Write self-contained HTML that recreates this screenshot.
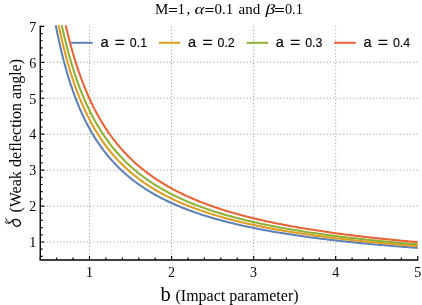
<!DOCTYPE html><html><head><meta charset="utf-8"><style>html,body{margin:0;padding:0;background:#fff}svg{display:block;will-change:transform;opacity:0.999}text{font-family:"Liberation Serif",serif;fill:#000}.s{font-family:"Liberation Sans",sans-serif;stroke:#000;stroke-width:0.3px}</style></head><body>
<svg width="422" height="305" viewBox="0 0 422 305">
<rect width="422" height="305" fill="#fff"/>
<path d="M40.26 242.00H417.74M40.26 206.06H417.74M40.26 170.12H417.74M40.26 134.18H417.74M40.26 98.24H417.74M40.26 62.30H417.74M89.50 26.36V259.97M171.56 26.36V259.97M253.62 26.36V259.97M335.68 26.36V259.97" stroke="#969696" stroke-width="1" stroke-dasharray="1 2.33" fill="none"/>
<clipPath id="c"><rect x="40.26" y="25.36" width="377.88" height="234.61"/></clipPath>
<g clip-path="url(#c)" fill="none" stroke-width="2.05" stroke-linejoin="round">
<polyline points="45.19,-44.57 46.83,-31.29 48.47,-19.07 50.11,-7.77 51.75,2.70 53.39,12.42 55.03,21.49 56.68,29.95 58.32,37.88 59.96,45.31 61.60,52.30 63.24,58.88 64.88,65.09 66.52,70.95 68.16,76.50 69.81,81.76 71.45,86.76 73.09,91.50 74.73,96.02 76.37,100.32 78.01,104.42 79.65,108.34 81.29,112.08 82.94,115.67 84.58,119.10 86.22,122.39 87.86,125.54 89.50,128.57 91.14,131.49 92.78,134.29 94.42,136.98 96.06,139.58 97.71,142.08 99.35,144.49 100.99,146.82 102.63,149.07 104.27,151.25 105.91,153.35 107.55,155.38 109.19,157.35 110.84,159.25 112.48,161.10 114.12,162.89 115.76,164.63 117.40,166.31 119.04,167.94 120.68,169.53 122.32,171.07 123.97,172.57 125.61,174.03 127.25,175.45 128.89,176.83 130.53,178.17 132.17,179.48 133.81,180.75 135.45,181.99 137.09,183.20 138.74,184.38 140.38,185.53 142.02,186.66 143.66,187.75 145.30,188.82 146.94,189.87 148.58,190.89 150.22,191.89 151.87,192.86 153.51,193.81 155.15,194.75 156.79,195.66 158.43,196.55 160.07,197.42 161.71,198.27 163.35,199.11 165.00,199.93 166.64,200.73 168.28,201.52 169.92,202.29 171.56,203.04 173.20,203.78 174.84,204.51 176.48,205.22 178.12,205.91 179.77,206.60 181.41,207.27 183.05,207.93 184.69,208.57 186.33,209.21 187.97,209.83 189.61,210.44 191.25,211.05 192.90,211.64 194.54,212.22 196.18,212.79 197.82,213.35 199.46,213.90 201.10,214.44 202.74,214.97 204.38,215.49 206.03,216.01 207.67,216.52 209.31,217.01 210.95,217.50 212.59,217.99 214.23,218.46 215.87,218.93 217.51,219.39 219.15,219.84 220.80,220.29 222.44,220.73 224.08,221.16 225.72,221.58 227.36,222.00 229.00,222.42 230.64,222.83 232.28,223.23 233.93,223.62 235.57,224.01 237.21,224.40 238.85,224.78 240.49,225.15 242.13,225.52 243.77,225.88 245.41,226.24 247.06,226.59 248.70,226.94 250.34,227.29 251.98,227.62 253.62,227.96 255.26,228.29 256.90,228.62 258.54,228.94 260.18,229.26 261.83,229.57 263.47,229.88 265.11,230.18 266.75,230.49 268.39,230.78 270.03,231.08 271.67,231.37 273.31,231.66 274.96,231.94 276.60,232.22 278.24,232.50 279.88,232.77 281.52,233.04 283.16,233.31 284.80,233.57 286.44,233.83 288.09,234.09 289.73,234.34 291.37,234.59 293.01,234.84 294.65,235.09 296.29,235.33 297.93,235.57 299.57,235.81 301.21,236.04 302.86,236.28 304.50,236.51 306.14,236.73 307.78,236.96 309.42,237.18 311.06,237.40 312.70,237.62 314.34,237.83 315.99,238.05 317.63,238.26 319.27,238.47 320.91,238.67 322.55,238.88 324.19,239.08 325.83,239.28 327.47,239.48 329.12,239.67 330.76,239.87 332.40,240.06 334.04,240.25 335.68,240.44 337.32,240.62 338.96,240.81 340.60,240.99 342.24,241.17 343.89,241.35 345.53,241.53 347.17,241.70 348.81,241.88 350.45,242.05 352.09,242.22 353.73,242.39 355.37,242.56 357.02,242.72 358.66,242.89 360.30,243.05 361.94,243.21 363.58,243.37 365.22,243.53 366.86,243.69 368.50,243.84 370.15,244.00 371.79,244.15 373.43,244.30 375.07,244.45 376.71,244.60 378.35,244.75 379.99,244.89 381.63,245.04 383.27,245.18 384.92,245.32 386.56,245.46 388.20,245.60 389.84,245.74 391.48,245.88 393.12,246.02 394.76,246.15 396.40,246.28 398.05,246.42 399.69,246.55 401.33,246.68 402.97,246.81 404.61,246.94 406.25,247.07 407.89,247.19 409.53,247.32 411.18,247.44 412.82,247.56 414.46,247.69 416.10,247.81 417.74,247.93" stroke="#5e81b5"/>
<polyline points="48.47,-37.04 50.11,-25.05 51.75,-13.94 53.39,-3.62 55.03,6.00 56.68,14.98 58.32,23.39 59.96,31.27 61.60,38.69 63.24,45.67 64.88,52.25 66.52,58.47 68.16,64.36 69.81,69.94 71.45,75.24 73.09,80.27 74.73,85.06 76.37,89.62 78.01,93.97 79.65,98.13 81.29,102.10 82.94,105.90 84.58,109.54 86.22,113.03 87.86,116.37 89.50,119.59 91.14,122.68 92.78,125.65 94.42,128.51 96.06,131.26 97.71,133.91 99.35,136.47 100.99,138.94 102.63,141.33 104.27,143.63 105.91,145.86 107.55,148.02 109.19,150.10 110.84,152.12 112.48,154.08 114.12,155.98 115.76,157.82 117.40,159.60 119.04,161.34 120.68,163.02 122.32,164.66 123.97,166.25 125.61,167.79 127.25,169.29 128.89,170.76 130.53,172.18 132.17,173.57 133.81,174.92 135.45,176.23 137.09,177.52 138.74,178.77 140.38,179.99 142.02,181.18 143.66,182.34 145.30,183.48 146.94,184.58 148.58,185.67 150.22,186.72 151.87,187.76 153.51,188.77 155.15,189.75 156.79,190.72 158.43,191.67 160.07,192.59 161.71,193.50 163.35,194.38 165.00,195.25 166.64,196.10 168.28,196.93 169.92,197.75 171.56,198.55 173.20,199.33 174.84,200.10 176.48,200.85 178.12,201.59 179.77,202.32 181.41,203.03 183.05,203.73 184.69,204.41 186.33,205.09 187.97,205.75 189.61,206.40 191.25,207.03 192.90,207.66 194.54,208.28 196.18,208.88 197.82,209.47 199.46,210.06 201.10,210.63 202.74,211.20 204.38,211.75 206.03,212.30 207.67,212.83 209.31,213.36 210.95,213.88 212.59,214.39 214.23,214.90 215.87,215.39 217.51,215.88 219.15,216.36 220.80,216.83 222.44,217.30 224.08,217.76 225.72,218.21 227.36,218.65 229.00,219.09 230.64,219.52 232.28,219.95 233.93,220.37 235.57,220.78 237.21,221.19 238.85,221.59 240.49,221.99 242.13,222.38 243.77,222.76 245.41,223.14 247.06,223.52 248.70,223.89 250.34,224.25 251.98,224.61 253.62,224.96 255.26,225.31 256.90,225.66 258.54,226.00 260.18,226.34 261.83,226.67 263.47,227.00 265.11,227.32 266.75,227.64 268.39,227.96 270.03,228.27 271.67,228.58 273.31,228.88 274.96,229.18 276.60,229.48 278.24,229.77 279.88,230.06 281.52,230.35 283.16,230.63 284.80,230.91 286.44,231.19 288.09,231.46 289.73,231.73 291.37,232.00 293.01,232.26 294.65,232.52 296.29,232.78 297.93,233.03 299.57,233.28 301.21,233.53 302.86,233.78 304.50,234.02 306.14,234.26 307.78,234.50 309.42,234.74 311.06,234.97 312.70,235.20 314.34,235.43 315.99,235.66 317.63,235.88 319.27,236.10 320.91,236.32 322.55,236.54 324.19,236.75 325.83,236.96 327.47,237.17 329.12,237.38 330.76,237.59 332.40,237.79 334.04,237.99 335.68,238.19 337.32,238.39 338.96,238.58 340.60,238.78 342.24,238.97 343.89,239.16 345.53,239.35 347.17,239.53 348.81,239.72 350.45,239.90 352.09,240.08 353.73,240.26 355.37,240.44 357.02,240.61 358.66,240.79 360.30,240.96 361.94,241.13 363.58,241.30 365.22,241.47 366.86,241.63 368.50,241.80 370.15,241.96 371.79,242.12 373.43,242.29 375.07,242.44 376.71,242.60 378.35,242.76 379.99,242.91 381.63,243.07 383.27,243.22 384.92,243.37 386.56,243.52 388.20,243.67 389.84,243.81 391.48,243.96 393.12,244.10 394.76,244.25 396.40,244.39 398.05,244.53 399.69,244.67 401.33,244.81 402.97,244.95 404.61,245.08 406.25,245.22 407.89,245.35 409.53,245.48 411.18,245.62 412.82,245.75 414.46,245.88 416.10,246.00 417.74,246.13" stroke="#e19c24"/>
<polyline points="50.11,-43.55 51.75,-31.68 53.39,-20.65 55.03,-10.38 56.68,-0.79 58.32,8.17 59.96,16.59 61.60,24.49 63.24,31.93 64.88,38.94 66.52,45.56 68.16,51.83 69.81,57.77 71.45,63.40 73.09,68.76 74.73,73.85 76.37,78.70 78.01,83.33 79.65,87.74 81.29,91.96 82.94,96.00 84.58,99.86 86.22,103.57 87.86,107.12 89.50,110.53 91.14,113.81 92.78,116.96 94.42,119.99 96.06,122.91 97.71,125.73 99.35,128.44 100.99,131.06 102.63,133.59 104.27,136.04 105.91,138.40 107.55,140.68 109.19,142.89 110.84,145.03 112.48,147.11 114.12,149.12 115.76,151.07 117.40,152.96 119.04,154.80 120.68,156.58 122.32,158.31 123.97,159.99 125.61,161.63 127.25,163.22 128.89,164.77 130.53,166.28 132.17,167.75 133.81,169.18 135.45,170.57 137.09,171.93 138.74,173.25 140.38,174.54 142.02,175.80 143.66,177.03 145.30,178.23 146.94,179.40 148.58,180.55 150.22,181.67 151.87,182.76 153.51,183.83 155.15,184.87 156.79,185.90 158.43,186.89 160.07,187.87 161.71,188.83 163.35,189.77 165.00,190.69 166.64,191.58 168.28,192.46 169.92,193.33 171.56,194.17 173.20,195.00 174.84,195.81 176.48,196.61 178.12,197.39 179.77,198.16 181.41,198.91 183.05,199.65 184.69,200.37 186.33,201.08 187.97,201.78 189.61,202.47 191.25,203.14 192.90,203.80 194.54,204.45 196.18,205.09 197.82,205.72 199.46,206.34 201.10,206.94 202.74,207.54 204.38,208.13 206.03,208.70 207.67,209.27 209.31,209.83 210.95,210.38 212.59,210.92 214.23,211.45 215.87,211.97 217.51,212.49 219.15,212.99 220.80,213.49 222.44,213.98 224.08,214.47 225.72,214.95 227.36,215.42 229.00,215.88 230.64,216.33 232.28,216.78 233.93,217.23 235.57,217.66 237.21,218.09 238.85,218.52 240.49,218.94 242.13,219.35 243.77,219.76 245.41,220.16 247.06,220.55 248.70,220.94 250.34,221.33 251.98,221.71 253.62,222.08 255.26,222.45 256.90,222.82 258.54,223.18 260.18,223.53 261.83,223.88 263.47,224.23 265.11,224.57 266.75,224.91 268.39,225.24 270.03,225.57 271.67,225.90 273.31,226.22 274.96,226.53 276.60,226.85 278.24,227.16 279.88,227.46 281.52,227.76 283.16,228.06 284.80,228.36 286.44,228.65 288.09,228.94 289.73,229.22 291.37,229.50 293.01,229.78 294.65,230.06 296.29,230.33 297.93,230.60 299.57,230.86 301.21,231.13 302.86,231.39 304.50,231.64 306.14,231.90 307.78,232.15 309.42,232.40 311.06,232.64 312.70,232.89 314.34,233.13 315.99,233.37 317.63,233.60 319.27,233.84 320.91,234.07 322.55,234.30 324.19,234.52 325.83,234.75 327.47,234.97 329.12,235.19 330.76,235.40 332.40,235.62 334.04,235.83 335.68,236.04 337.32,236.25 338.96,236.46 340.60,236.66 342.24,236.86 343.89,237.06 345.53,237.26 347.17,237.46 348.81,237.65 350.45,237.84 352.09,238.04 353.73,238.22 355.37,238.41 357.02,238.60 358.66,238.78 360.30,238.96 361.94,239.14 363.58,239.32 365.22,239.50 366.86,239.67 368.50,239.85 370.15,240.02 371.79,240.19 373.43,240.36 375.07,240.53 376.71,240.69 378.35,240.86 379.99,241.02 381.63,241.18 383.27,241.34 384.92,241.50 386.56,241.66 388.20,241.82 389.84,241.97 391.48,242.13 393.12,242.28 394.76,242.43 396.40,242.58 398.05,242.73 399.69,242.88 401.33,243.02 402.97,243.17 404.61,243.31 406.25,243.45 407.89,243.59 409.53,243.73 411.18,243.87 412.82,244.01 414.46,244.15 416.10,244.28 417.74,244.42" stroke="#8fb032"/>
<polyline points="53.39,-42.72 55.03,-31.62 56.68,-21.26 58.32,-11.57 59.96,-2.49 61.60,6.04 63.24,14.06 64.88,21.63 66.52,28.77 68.16,35.53 69.81,41.93 71.45,48.00 73.09,53.76 74.73,59.25 76.37,64.47 78.01,69.45 79.65,74.20 81.29,78.74 82.94,83.08 84.58,87.24 86.22,91.22 87.86,95.04 89.50,98.71 91.14,102.23 92.78,105.62 94.42,108.88 96.06,112.01 97.71,115.04 99.35,117.95 100.99,120.76 102.63,123.48 104.27,126.10 105.91,128.64 107.55,131.09 109.19,133.46 110.84,135.76 112.48,137.99 114.12,140.15 115.76,142.24 117.40,144.27 119.04,146.24 120.68,148.15 122.32,150.00 123.97,151.81 125.61,153.56 127.25,155.27 128.89,156.93 130.53,158.55 132.17,160.12 133.81,161.65 135.45,163.15 137.09,164.60 138.74,166.02 140.38,167.40 142.02,168.75 143.66,170.07 145.30,171.36 146.94,172.61 148.58,173.84 150.22,175.04 151.87,176.21 153.51,177.35 155.15,178.47 156.79,179.57 158.43,180.64 160.07,181.69 161.71,182.71 163.35,183.71 165.00,184.70 166.64,185.66 168.28,186.60 169.92,187.53 171.56,188.43 173.20,189.32 174.84,190.19 176.48,191.04 178.12,191.88 179.77,192.70 181.41,193.50 183.05,194.29 184.69,195.07 186.33,195.83 187.97,196.58 189.61,197.31 191.25,198.03 192.90,198.74 194.54,199.44 196.18,200.12 197.82,200.79 199.46,201.45 201.10,202.10 202.74,202.74 204.38,203.36 206.03,203.98 207.67,204.59 209.31,205.19 210.95,205.77 212.59,206.35 214.23,206.92 215.87,207.48 217.51,208.03 219.15,208.57 220.80,209.11 222.44,209.63 224.08,210.15 225.72,210.66 227.36,211.16 229.00,211.66 230.64,212.15 232.28,212.63 233.93,213.10 235.57,213.57 237.21,214.03 238.85,214.48 240.49,214.93 242.13,215.37 243.77,215.80 245.41,216.23 247.06,216.66 248.70,217.07 250.34,217.48 251.98,217.89 253.62,218.29 255.26,218.69 256.90,219.08 258.54,219.46 260.18,219.84 261.83,220.22 263.47,220.59 265.11,220.95 266.75,221.31 268.39,221.67 270.03,222.02 271.67,222.37 273.31,222.71 274.96,223.05 276.60,223.39 278.24,223.72 279.88,224.04 281.52,224.37 283.16,224.69 284.80,225.00 286.44,225.31 288.09,225.62 289.73,225.93 291.37,226.23 293.01,226.52 294.65,226.82 296.29,227.11 297.93,227.40 299.57,227.68 301.21,227.96 302.86,228.24 304.50,228.51 306.14,228.79 307.78,229.05 309.42,229.32 311.06,229.58 312.70,229.84 314.34,230.10 315.99,230.36 317.63,230.61 319.27,230.86 320.91,231.10 322.55,231.35 324.19,231.59 325.83,231.83 327.47,232.07 329.12,232.30 330.76,232.53 332.40,232.76 334.04,232.99 335.68,233.21 337.32,233.44 338.96,233.66 340.60,233.87 342.24,234.09 343.89,234.30 345.53,234.52 347.17,234.73 348.81,234.93 350.45,235.14 352.09,235.34 353.73,235.55 355.37,235.75 357.02,235.94 358.66,236.14 360.30,236.33 361.94,236.53 363.58,236.72 365.22,236.91 366.86,237.10 368.50,237.28 370.15,237.47 371.79,237.65 373.43,237.83 375.07,238.01 376.71,238.19 378.35,238.36 379.99,238.54 381.63,238.71 383.27,238.88 384.92,239.05 386.56,239.22 388.20,239.39 389.84,239.55 391.48,239.71 393.12,239.88 394.76,240.04 396.40,240.20 398.05,240.36 399.69,240.51 401.33,240.67 402.97,240.83 404.61,240.98 406.25,241.13 407.89,241.28 409.53,241.43 411.18,241.58 412.82,241.73 414.46,241.87 416.10,242.02 417.74,242.16" stroke="#eb6235"/>
</g>
<path d="M40.26 25.56V259.97M39.66 259.97H418.24" stroke="#000" stroke-width="1.4" fill="none"/>
<path d="M40.26 259.97v-2.4M56.68 259.97v-2.4M73.09 259.97v-2.4M89.50 259.97v-4M105.91 259.97v-2.4M122.32 259.97v-2.4M138.74 259.97v-2.4M155.15 259.97v-2.4M171.56 259.97v-4M187.97 259.97v-2.4M204.38 259.97v-2.4M220.80 259.97v-2.4M237.21 259.97v-2.4M253.62 259.97v-4M270.03 259.97v-2.4M286.44 259.97v-2.4M302.86 259.97v-2.4M319.27 259.97v-2.4M335.68 259.97v-4M352.09 259.97v-2.4M368.50 259.97v-2.4M384.92 259.97v-2.4M401.33 259.97v-2.4M417.74 259.97v-4M40.26 256.38h2.4M40.26 249.19h2.4M40.26 242.00h4M40.26 234.81h2.4M40.26 227.62h2.4M40.26 220.44h2.4M40.26 213.25h2.4M40.26 206.06h4M40.26 198.87h2.4M40.26 191.68h2.4M40.26 184.50h2.4M40.26 177.31h2.4M40.26 170.12h4M40.26 162.93h2.4M40.26 155.74h2.4M40.26 148.56h2.4M40.26 141.37h2.4M40.26 134.18h4M40.26 126.99h2.4M40.26 119.80h2.4M40.26 112.62h2.4M40.26 105.43h2.4M40.26 98.24h4M40.26 91.05h2.4M40.26 83.86h2.4M40.26 76.68h2.4M40.26 69.49h2.4M40.26 62.30h4M40.26 55.11h2.4M40.26 47.92h2.4M40.26 40.74h2.4M40.26 33.55h2.4M40.26 26.36h4" stroke="#000" stroke-width="1.15" fill="none"/>
<text x="89.50" y="277.3" font-size="14" text-anchor="middle">1</text>
<text x="171.56" y="277.3" font-size="14" text-anchor="middle">2</text>
<text x="253.62" y="277.3" font-size="14" text-anchor="middle">3</text>
<text x="335.68" y="277.3" font-size="14" text-anchor="middle">4</text>
<text x="417.74" y="277.3" font-size="14" text-anchor="middle">5</text>
<text x="36.3" y="247.30" font-size="14" text-anchor="end">1</text>
<text x="36.3" y="211.36" font-size="14" text-anchor="end">2</text>
<text x="36.3" y="175.42" font-size="14" text-anchor="end">3</text>
<text x="36.3" y="139.48" font-size="14" text-anchor="end">4</text>
<text x="36.3" y="103.54" font-size="14" text-anchor="end">5</text>
<text x="36.3" y="67.60" font-size="14" text-anchor="end">6</text>
<text x="36.3" y="31.66" font-size="14" text-anchor="end">7</text>
<text x="155.0" y="13.8" font-size="15" >M</text>
<path d="M168.9 8.5h8.1M168.9 11.5h8.1M205.3 8.5h8.2M205.3 11.5h8.2M275 8.5h8.8M275 11.5h8.8" stroke="#000" stroke-width="1" fill="none"/>
<text x="177.5" y="13.8" font-size="15" >1</text>
<text x="186.4" y="13.8" font-size="15" >,</text>
<text transform="translate(194.6,13.8) scale(1.25,1)" font-size="15" font-style="italic">α</text>
<text x="214.6" y="13.8" font-size="15" >0.1</text>
<text x="238.5" y="13.8" font-size="15" >and</text>
<text transform="translate(265.4,13.8) scale(1.3,1)" font-size="15" font-style="italic">β</text>
<text x="284.9" y="13.8" font-size="15" textLength="17.9" lengthAdjust="spacingAndGlyphs">0.1</text>
<text x="160.4" y="300.5" font-size="20.5" >b</text>
<text x="175.5" y="300.5" font-size="16" >(Impact parameter)</text>
<text transform="translate(20.8,212.6) rotate(-90)" font-size="16">(Weak <tspan dx="0.3">deflection angle)</tspan></text>
<path d="M7.9 221.6C7.7 223.2 8.8 223.6 10.0 222.8C11.4 221.9 12.2 220.6 13.6 219.9C15.8 218.8 19.0 219.4 20.2 222.0C21.2 224.3 19.6 226.2 17.2 226.3C14.8 226.3 12.6 224.2 13.1 221.3" fill="none" stroke="#000" stroke-width="1.25" stroke-linecap="round"/>
<path d="M7.0 223.6C4.7 222.8 4.9 221.7 6.1 221.1C7.3 220.5 7.7 219.5 5.5 218.7" fill="none" stroke="#000" stroke-width="0.9" stroke-linecap="round"/>
<path d="M71.10 42.8h21.5" stroke="#5e81b5" stroke-width="2"/>
<text class="s" x="100.40" y="47" font-size="14.6" style="stroke-width:0.2px">a</text>
<path d="M115.40 40.3h8.8M115.40 44.35h8.8" stroke="#000" stroke-width="1.3" fill="none"/>
<text class="s" x="129.80" y="47" font-size="12.4" style="stroke-width:0.12px">0.1</text>
<path d="M158.80 42.8h21.5" stroke="#e19c24" stroke-width="2"/>
<text class="s" x="188.10" y="47" font-size="14.6" style="stroke-width:0.2px">a</text>
<path d="M203.10 40.3h8.8M203.10 44.35h8.8" stroke="#000" stroke-width="1.3" fill="none"/>
<text class="s" x="217.50" y="47" font-size="12.4" style="stroke-width:0.12px">0.2</text>
<path d="M246.50 42.8h21.5" stroke="#8fb032" stroke-width="2"/>
<text class="s" x="275.80" y="47" font-size="14.6" style="stroke-width:0.2px">a</text>
<path d="M290.80 40.3h8.8M290.80 44.35h8.8" stroke="#000" stroke-width="1.3" fill="none"/>
<text class="s" x="305.20" y="47" font-size="12.4" style="stroke-width:0.12px">0.3</text>
<path d="M334.20 42.8h21.5" stroke="#eb6235" stroke-width="2"/>
<text class="s" x="363.50" y="47" font-size="14.6" style="stroke-width:0.2px">a</text>
<path d="M378.50 40.3h8.8M378.50 44.35h8.8" stroke="#000" stroke-width="1.3" fill="none"/>
<text class="s" x="392.90" y="47" font-size="12.4" style="stroke-width:0.12px">0.4</text>
</svg></body></html>
